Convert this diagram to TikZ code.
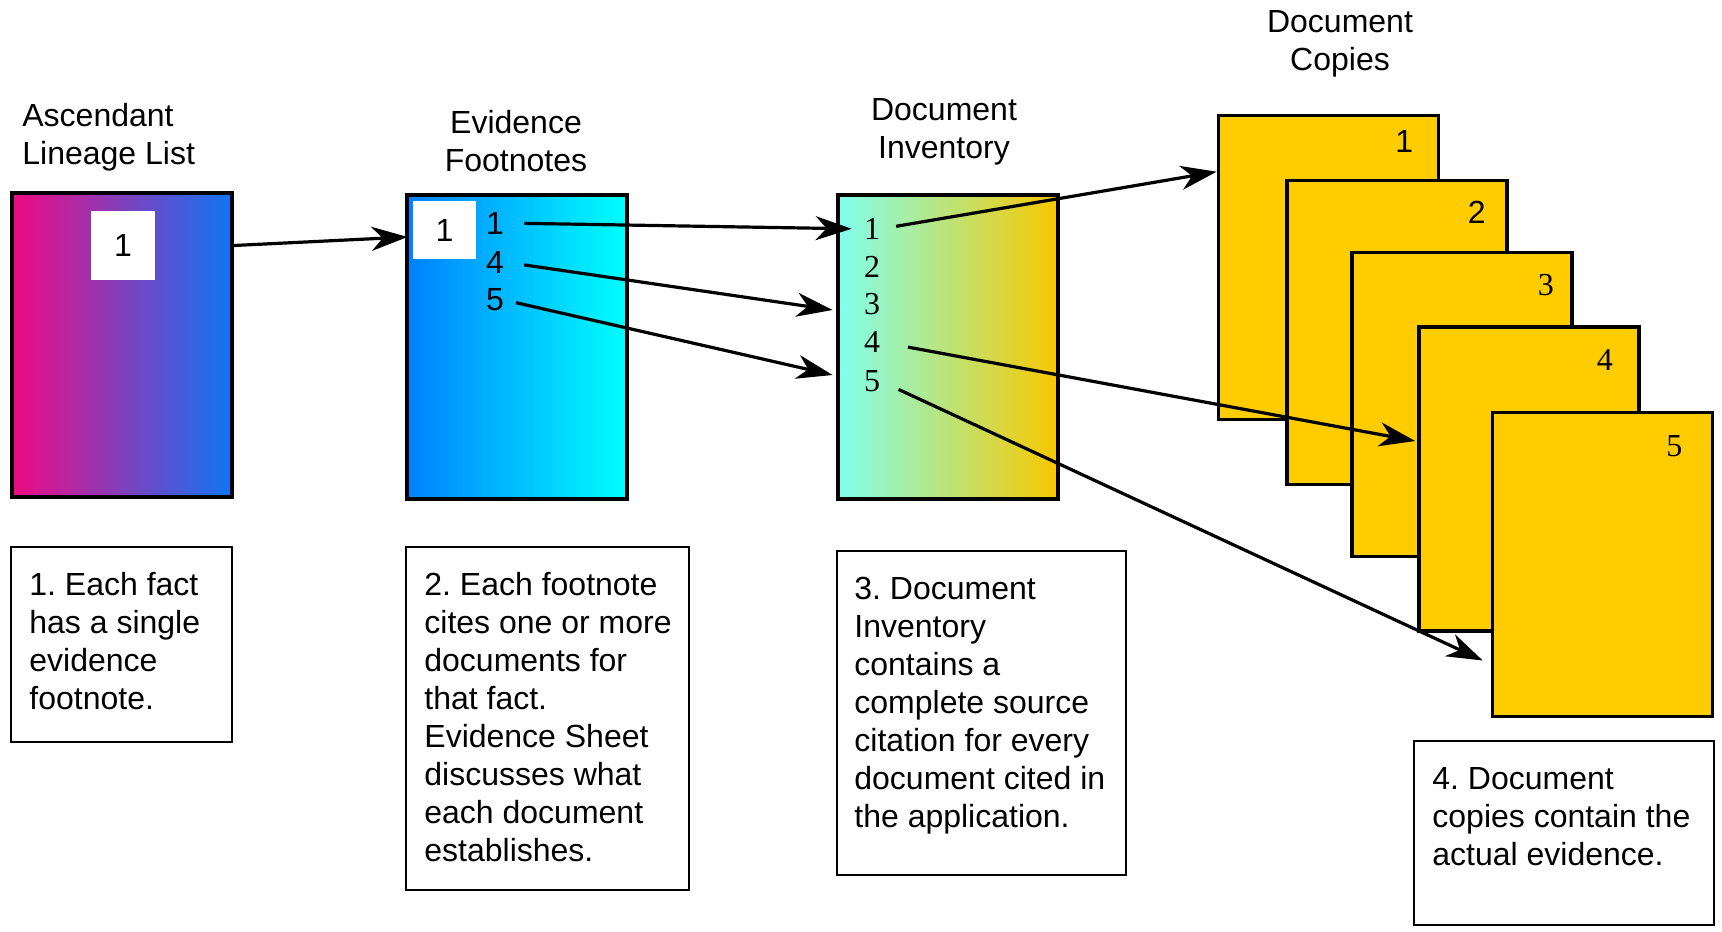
\documentclass[tikz,border=0pt]{standalone}
\usepackage{fontspec}
\setmainfont{Liberation Sans}
\newfontfamily\numserif{Liberation Serif}
\usetikzlibrary{arrows.meta}
\definecolor{lineagePink}{RGB}{240,10,130}
\definecolor{lineageBlue}{RGB}{16,117,245}
\definecolor{footBlue}{RGB}{0,128,255}
\definecolor{footCyan}{RGB}{0,255,255}
\definecolor{invAqua}{RGB}{128,255,240}
\definecolor{invGold}{RGB}{248,200,0}
\definecolor{copyGold}{RGB}{255,204,0}
\newcommand\docfont{\fontsize{16pt}{19pt}\selectfont}
\frenchspacing

\tikzset{
  docbox/.style={draw=black, line width=2pt, minimum width=110pt, minimum height=152pt, inner sep=0pt},
  notebox/.style={draw=black, line width=1.4pt},
  notetext/.style={anchor=north west, align=left, inner sep=0pt},
  title/.style={anchor=north, align=center, inner sep=0pt},
  num/.style={inner sep=0pt},
  serifnum/.style={inner sep=0pt, font=\docfont\numserif},
  link/.style={line width=1.6pt, -{Stealth[length=18pt,width=12pt,inset=5.5pt]}}
}

\begin{document}
\begin{tikzpicture}[x=0.5pt,y=-0.5pt,font=\docfont]
\useasboundingbox (0,0) rectangle (1722,931);

% Headings
\node[title, anchor=north west, align=left] (tlineage) at (22,103) {Ascendant\\Lineage List};
\node[title] (tfoot) at (516,110) {Evidence\\Footnotes};
\node[title] (tinv) at (944,98) {Document\\Inventory};
\node[title] (tcopy) at (1340,10) {Document\\Copies};

% Ascendant lineage list
\node[docbox, left color=lineagePink, right color=lineageBlue] (box1) at (122,344.5) {};
\node[fill=white, minimum width=32pt, minimum height=34.5pt, inner sep=0pt] (sq1) at (123,245.5) {1};

% Evidence footnotes
\node[docbox, left color=footBlue, right color=footCyan] (box2) at (516.5,347) {};
\node[fill=white, minimum width=31.5pt, minimum height=29pt, inner sep=0pt] (sq2) at (444.5,230) {1};
\foreach \n/\y in {1/223,4/262,5/300}
  \node[num] (fn\n) at (495,\y) {\n};

% Document inventory
\node[docbox, left color=invAqua, right color=invGold] (box3) at (947.5,347) {};
\foreach \n/\y in {1/229,2/267,3/304,4/342,5/381}
  \node[serifnum] (inv\n) at (872,\y) {\n};

% Document copies, stacked
\foreach \n/\x/\y/\dx/\dy/\fnt in {1/1328.5/267.5/-18/-14/\relax, 2/1397/332.5/-16/-17/\relax, 3/1462/404.5/-14/-17/\numserif, 4/1529/479/-18/-17.5/\numserif, 5/1602.5/564.5/-20/-17.5/\numserif} {
  \node[docbox, fill=copyGold, line width=1.8pt] (c\n) at (\x,\y) {};
  \node[num] (cl\n) at ([xshift=\dx pt,yshift=\dy pt]c\n.north east) {\fnt\n};
}

% Notes below
\draw[notebox] (11,547) rectangle (232,742);
\node[notetext] (note1) at (29,572) {1. Each fact\\has a single\\evidence\\footnote.};
\draw[notebox] (406,547) rectangle (689,890);
\node[notetext] (note2) at (424,572) {2. Each footnote\\cites one or more\\documents for\\that fact.\\Evidence Sheet\\discusses what\\each document\\establishes.};
\draw[notebox] (837,551) rectangle (1126,875);
\node[notetext] (note3) at (854,577) {3. Document\\Inventory\\contains a\\complete source\\citation for every\\document cited in\\the application.};
\draw[notebox] (1414,741) rectangle (1714,925);
\node[notetext] (note4) at (1432,767) {4. Document\\copies contain the\\actual evidence.};

% Arrows
\draw[link] (box1.east |- sq1) -- ([xshift=-2.5pt,yshift=-3.5pt]sq2.west);
\draw[link, shorten <=10pt, shorten >=6pt] (fn1.east) -- (inv1.west);
\draw[link, shorten <=10pt] (fn4.east) -- ([xshift=-15.5pt,yshift=-3pt]inv3.west);
\draw[link, shorten <=6pt] (fn5.east) -- ([xshift=-15.5pt,yshift=3pt]inv5.west);
\draw[link, shorten <=8pt] (inv1.east) -- ([yshift=-29pt]c1.north west);
\draw[link, shorten <=14pt] (inv4.east) -- ([xshift=-1pt,yshift=19pt]c4.west);
\draw[link, shorten <=10pt] (inv5.east) -- ([xshift=-4pt,yshift=-48pt]c5.west);

\end{tikzpicture}
\end{document}
